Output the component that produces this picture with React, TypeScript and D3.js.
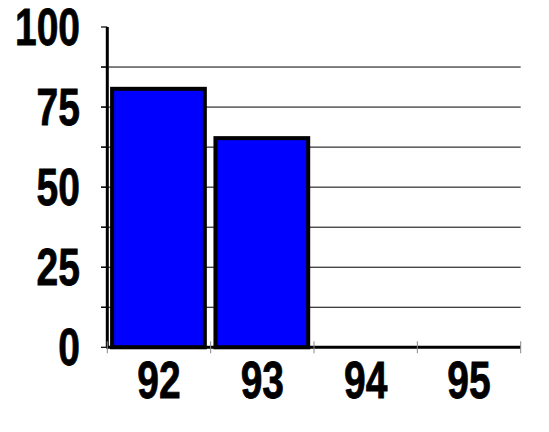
import React from "react";
import * as d3 from "d3";

const years = ["92", "93", "94", "95"];
const values = [80.7, 65.3, 0, 0];
const yTickLabels = [0, 25, 50, 75, 100];
const gridSteps = [12.5, 25, 37.5, 50, 62.5, 75, 87.5];
const minorTicks = [0, 12.5, 25, 37.5, 50, 62.5, 75, 87.5, 100];

const W = 549;
const H = 432;
const margin = { left: 107.3, right: 28.3, top: 27, bottom: 84.7 };

const font = "'Liberation Sans', Arial, sans-serif";

const App = () => {
  const x = d3
    .scaleBand<string>()
    .domain(years)
    .range([margin.left, W - margin.right]);

  const y = d3
    .scaleLinear()
    .domain([0, 100])
    .range([H - margin.bottom, margin.top]);

  const bw = x.bandwidth();
  const x0 = margin.left;
  const x1 = W - margin.right;

  return (
    <svg
      width={W}
      height={H}
      style={{ position: "absolute", left: 0, top: 0, background: "#fff" }}
    >
      {/* gridlines */}
      {gridSteps.map(v => (
        <line
          key={"g" + v}
          x1={101}
          x2={x1}
          y1={y(v)}
          y2={y(v)}
          stroke="#000"
          strokeWidth={1}
        />
      ))}

      {/* y ticks */}
      {minorTicks.map(v => (
        <line
          key={"t" + v}
          x1={101}
          x2={x0}
          y1={y(v)}
          y2={y(v)}
          stroke="#000"
          strokeWidth={1.2}
        />
      ))}

      {/* bars */}
      {years.map((k, i) =>
        values[i] > 0 ? (
          <rect
            key={k}
            x={x(k)! + 4.8}
            y={y(values[i])}
            width={bw - 10.6}
            height={y(0) - y(values[i])}
            fill="#0000ff"
            stroke="#000"
            strokeWidth={4}
          />
        ) : null
      )}

      {/* y axis */}
      <line x1={x0} x2={x0} y1={y(100)} y2={y(0)} stroke="#000" strokeWidth={3} />

      {/* x axis */}
      <line x1={x0 - 1} x2={x1} y1={y(0)} y2={y(0)} stroke="#000" strokeWidth={3} />

      {/* x category ticks */}
      {[...years.map(k => x(k)!), x1].map((v, i) => (
        <line
          key={"xt" + i}
          x1={v}
          x2={v}
          y1={y(0) - 6}
          y2={y(0) + 6}
          stroke="#888"
          strokeWidth={1}
        />
      ))}

      {/* y labels */}
      {yTickLabels.map(v => (
        <text
          key={"yl" + v}
          transform={`translate(80,${y(v) + 18}) scale(0.75,1)`}
          textAnchor="end"
          fontFamily={font}
          fontWeight="bold"
          fontSize={52}
          fill="#000"
          stroke="#000"
          strokeWidth={0.8}
        >
          {v}
        </text>
      ))}

      {/* x labels */}
      {years.map(k => (
        <text
          key={"xl" + k}
          transform={`translate(${x(k)! + bw / 2},398) scale(0.75,1)`}
          textAnchor="middle"
          fontFamily={font}
          fontWeight="bold"
          fontSize={52}
          fill="#000"
          stroke="#000"
          strokeWidth={0.8}
        >
          {k}
        </text>
      ))}
    </svg>
  );
};

export default App;
